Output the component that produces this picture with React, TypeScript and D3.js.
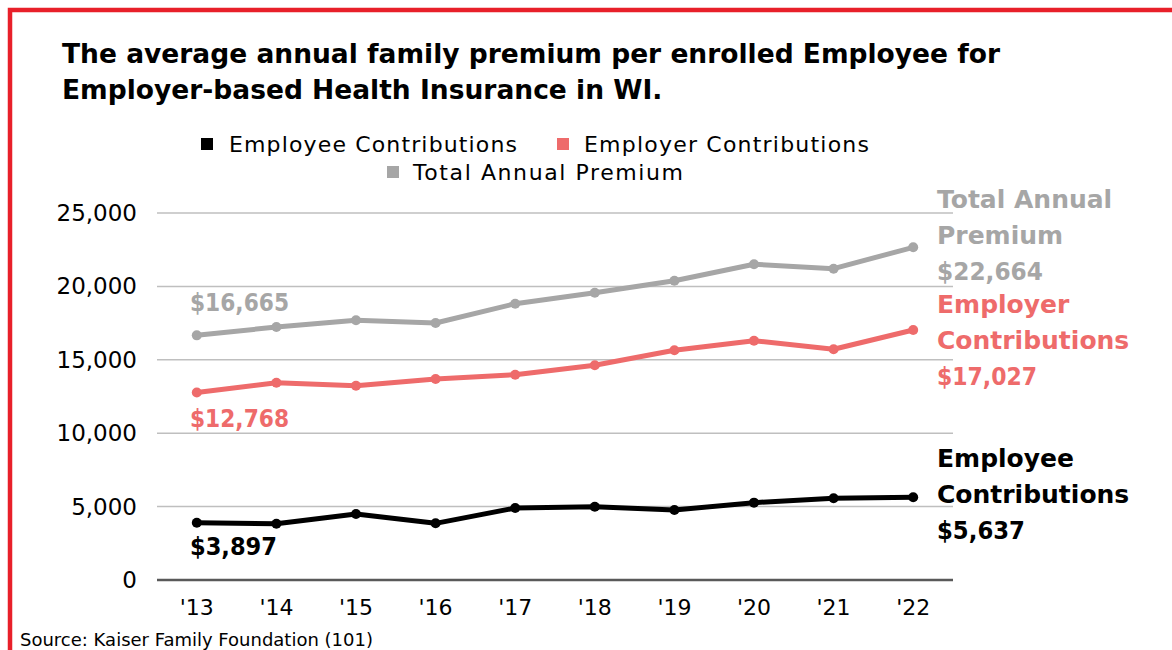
import React from 'react';
import * as d3 from 'd3';

const years = ["'13", "'14", "'15", "'16", "'17", "'18", "'19", "'20", "'21", "'22"];
const employee = [3897, 3835, 4500, 3860, 4900, 4990, 4770, 5270, 5570, 5637];
const employer = [12768, 13440, 13236, 13692, 13985, 14625, 15647, 16301, 15715, 17027];
const total = [16665, 17234, 17691, 17507, 18822, 19571, 20388, 21505, 21206, 22664];
const yTicks = [0, 5000, 10000, 15000, 20000, 25000];

const titleLines = [
  'The average annual family premium per enrolled Employee for',
  'Employer-based Health Insurance in WI.',
];
const legendItems = [
  { label: 'Employee Contributions', color: '#000000' },
  { label: 'Employer Contributions', color: '#ee6b6b' },
  { label: 'Total Annual Premium', color: '#a6a6a6' },
];
const sourceText = 'Source: Kaiser Family Foundation (101)';

const FONT = "'DejaVu Sans', sans-serif";

export default function App() {
  const W = 1172;
  const H = 650;
  const x = d3.scalePoint<string>().domain(years).range([157, 953]).padding(0.5);
  const y = d3.scaleLinear().domain([0, 25000]).range([580, 213]);
  const fmt = d3.format(',');
  const line = d3
    .line<number>()
    .x((_, i) => x(years[i]) as number)
    .y((d) => y(d));

  const series = [
    { values: total, color: '#a6a6a6' },
    { values: employer, color: '#ee6b6b' },
    { values: employee, color: '#000000' },
  ];

  const endLabels = [
    { lines: ['Total Annual', 'Premium', '$' + fmt(total[9])], color: '#a6a6a6', y0: 208, numW: 106 },
    { lines: ['Employer', 'Contributions', '$' + fmt(employer[9])], color: '#ee6b6b', y0: 313, numW: 100 },
    { lines: ['Employee', 'Contributions', '$' + fmt(employee[9])], color: '#000000', y0: 467, numW: 88 },
  ];
  const startLabels = [
    { text: '$' + fmt(total[0]), color: '#a6a6a6', y: 311, w: 99 },
    { text: '$' + fmt(employer[0]), color: '#ee6b6b', y: 427, w: 99 },
    { text: '$' + fmt(employee[0]), color: '#000000', y: 555, w: 87 },
  ];

  return (
    <svg
      width={W}
      height={H}
      style={{ position: 'absolute', left: 0, top: 0, background: '#fff' }}
      fontFamily={FONT}
    >
      <rect x={10} y={10} width={W + 20} height={H + 20} fill="none" stroke="#e8202a" strokeWidth={4.5} />
      {titleLines.map((t, i) => (
        <text key={i} x={62} y={63 + i * 36} fontSize={26.5} fontWeight="bold" fill="#000">
          {t}
        </text>
      ))}
      {/* legend */}
      <g fontSize={22} fill="#000">
        <rect x={201} y={138} width={12} height={12} fill={legendItems[0].color} />
        <text x={229} y={152} textLength={288} lengthAdjust="spacing">{legendItems[0].label}</text>
        <rect x={557} y={138} width={12} height={12} fill={legendItems[1].color} />
        <text x={584} y={152} textLength={285} lengthAdjust="spacing">{legendItems[1].label}</text>
        <rect x={387} y={166} width={12} height={12} fill={legendItems[2].color} />
        <text x={413} y={180} textLength={270} lengthAdjust="spacing">{legendItems[2].label}</text>
      </g>
      {/* grid */}
      {yTicks.map((t) => (
        <g key={t}>
          <line
            x1={157}
            x2={953}
            y1={y(t)}
            y2={y(t)}
            stroke={t === 0 ? '#595959' : '#bfbfbf'}
            strokeWidth={t === 0 ? 2.5 : 1.5}
          />
          <text x={137} y={y(t) + 8} textAnchor="end" fontSize={23} fill="#000">
            {fmt(t)}
          </text>
        </g>
      ))}
      {years.map((yr) => (
        <text key={yr} x={x(yr)} y={615} textAnchor="middle" fontSize={22} fill="#000">
          {yr}
        </text>
      ))}
      {series.map((s, si) => (
        <g key={si}>
          <path d={line(s.values) || ''} fill="none" stroke={s.color} strokeWidth={5} strokeLinejoin="round" />
          {s.values.map((v, i) => (
            <circle key={i} cx={x(years[i])} cy={y(v)} r={5} fill={s.color} />
          ))}
        </g>
      ))}
      {startLabels.map((l, i) => (
        <text key={i} x={190} y={l.y} fontSize={24} fontWeight="bold" fill={l.color} textLength={l.w} lengthAdjust="spacingAndGlyphs">
          {l.text}
        </text>
      ))}
      {endLabels.map((l, i) => (
        <g key={i}>
          {l.lines.map((t, j) => (
            <text
              key={j}
              x={937}
              y={l.y0 + j * 36}
              fontSize={25}
              fontWeight="bold"
              fill={l.color}
              {...(j === 2 ? { textLength: l.numW, lengthAdjust: 'spacingAndGlyphs' } : {})}
            >
              {t}
            </text>
          ))}
        </g>
      ))}
      <text x={20} y={646} fontSize={18} fill="#000">
        {sourceText}
      </text>
    </svg>
  );
}
